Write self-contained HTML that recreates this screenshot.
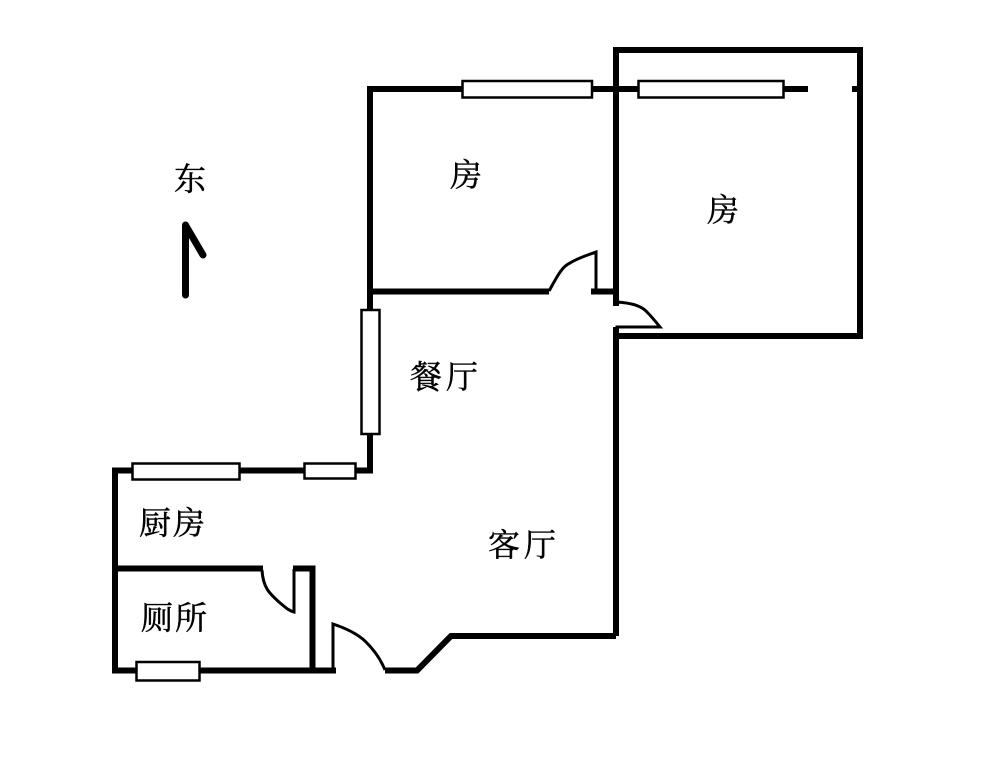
<!DOCTYPE html>
<html>
<head>
<meta charset="utf-8">
<style>
html,body{margin:0;padding:0;background:#fff;width:1000px;height:779px;overflow:hidden}
svg{display:block}
text{font-family:"Liberation Serif","Noto Serif CJK SC",serif;font-size:32px;fill:#000;stroke:#000;stroke-width:.45px}
</style>
</head>
<body>
<svg width="1000" height="779" viewBox="0 0 1000 779" xmlns="http://www.w3.org/2000/svg">
<g fill="none" stroke="#000" stroke-width="6" stroke-linejoin="miter" stroke-linecap="butt">
  <!-- right room -->
  <path d="M616 306V50H860V336H616"/>
  <path d="M616 327V636"/>
  <!-- top window wall -->
  <path d="M370 292V89H808"/>
  <path d="M852 89H860"/>
  <!-- bedroom bottom -->
  <path d="M370 291.500H549"/>
  <path d="M591 291.500H616"/>
  <!-- dining left -->
  <path d="M370 291V312"/>
  <path d="M370 432V470.500H115V670.500H336"/>
  <!-- kitchen / bath partition -->
  <path d="M115 568.500H263"/>
  <path d="M293 568.500H312.500V670"/>
  <!-- bottom -->
  <path d="M385 670.500H417L451 636H616"/>
  <!-- compass -->
  <path d="M185.500 225V295" stroke-width="7" stroke-linecap="round"/>
  <path d="M186 226L203 255" stroke-width="7" stroke-linecap="round"/>
</g>
<!-- doors -->
<g fill="none" stroke="#000" stroke-width="3">
  <path d="M549 291C556 279 561 267 570 263C578 258 588 255 596 252V290"/>
  <path d="M617 302C630 303 640 305 646 311C651 316 656 322 660 327H617V335" />
  <path d="M262 570C263 588 270 594 279 602C285 607 289 611 294 612V569"/>
  <path d="M333 670V624C345 628 358 634 366 642C375 651 381 660 385 670"/>
</g>
<!-- windows -->
<g fill="#fff" stroke="#000" stroke-width="2.500">
  <rect x="462.500" y="81" width="129.500" height="16.500"/>
  <rect x="638.500" y="81" width="145" height="16.500"/>
  <rect x="361.500" y="310" width="18" height="124"/>
  <rect x="132.500" y="463.500" width="107" height="16"/>
  <rect x="304.500" y="463.500" width="51" height="15"/>
  <rect x="136.500" y="662" width="63" height="18.500"/>
</g>
<g>
  <text x="174" y="190">东</text>
  <text x="450" y="186">房</text>
  <text x="707" y="221">房</text>
  <text x="410" y="388">餐</text>
  <text x="446" y="388">厅</text>
  <text x="488" y="556">客</text>
  <text x="524" y="556">厅</text>
  <text x="139" y="534">厨</text>
  <text x="173" y="534">房</text>
  <text x="141" y="629">厕</text>
  <text x="175" y="629">所</text>
</g>
</svg>
</body>
</html>
